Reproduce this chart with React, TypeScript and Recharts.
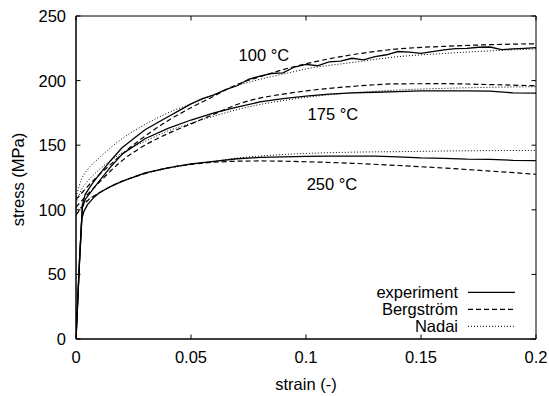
import { LineChart, Line, XAxis, YAxis, ReferenceArea, ReferenceDot } from 'recharts';

const FONT = '"Liberation Sans", Arial, Helvetica, sans-serif';
const FS = 16.5;

// plot frame (used for mirrored inward ticks)
const PLOT_TOP = 16;
const PLOT_RIGHT = 536;

const xTicks = [0, 0.05, 0.1, 0.15, 0.2];
const yTicks = [0, 50, 100, 150, 200, 250];

// model curves share one strain grid
const modelStrain = [0, 0.0025, 0.005, 0.01, 0.015, 0.02, 0.03, 0.04, 0.05, 0.06, 0.07, 0.08, 0.09, 0.1, 0.12, 0.14, 0.16, 0.18, 0.2];

const berg100 = [108, 113, 118, 127, 135, 143, 157, 169, 179, 188, 197, 203, 208.5, 213, 220, 224.5, 226.5, 227.8, 228.5];
const nadai100 = [110, 124, 131, 140, 148, 155, 166, 175, 182, 189, 196, 201, 205, 209, 214, 218.5, 221, 223, 224.5];
const berg175 = [102, 107, 112, 121, 130, 138, 150, 159, 166.5, 174, 181.5, 186.5, 189.5, 192, 195.5, 197.5, 197.6, 196.9, 196];
const nadai175 = [105, 116, 122, 131, 138, 144, 153, 161, 167, 172.5, 177.5, 181.5, 184.5, 187, 190.5, 192.7, 194, 194.8, 195.3];
const berg250 = [96, 102, 107, 113, 118, 122, 128, 132.5, 135.2, 136.8, 137.6, 137.8, 137.6, 137.2, 136, 134.3, 132.3, 130, 127.5];
const nadai250 = [95, 103, 107.5, 113, 118, 122, 128, 132, 135, 137.5, 140, 141.6, 142.8, 143.6, 144.6, 145, 145.5, 145.8, 146];

// experiments
const expStrain100 = [0, 0.0015, 0.0028, 0.004, 0.007, 0.01, 0.015, 0.02, 0.025, 0.03, 0.035, 0.04, 0.045, 0.05, 0.055, 0.06, 0.065, 0.07, 0.075, 0.08, 0.085, 0.09, 0.095, 0.1, 0.105, 0.11, 0.115, 0.12, 0.125, 0.13, 0.135, 0.14, 0.145, 0.15, 0.155, 0.16, 0.165, 0.17, 0.175, 0.18, 0.185, 0.19, 0.195, 0.2];
const exp100 = [0, 60, 104, 112, 120, 127, 138, 148, 155, 162, 167, 172, 177, 182, 186, 189, 193, 196, 201, 203.5, 205.5, 206, 210.5, 212.5, 211.5, 214.5, 215, 217.3, 216, 218.5, 220, 222.5, 222, 221, 222.5, 223.8, 224.8, 225, 225.8, 226, 224, 224.5, 225, 225.5];

const expStrain175 = [0, 0.0015, 0.0028, 0.004, 0.007, 0.01, 0.015, 0.02, 0.03, 0.04, 0.05, 0.06, 0.07, 0.08, 0.09, 0.1, 0.11, 0.12, 0.13, 0.14, 0.15, 0.16, 0.17, 0.18, 0.19, 0.2];
const exp175 = [0, 60, 102, 108, 115, 122, 133, 143, 155, 163, 169.5, 175, 179.5, 183.5, 186, 188, 189.5, 190.5, 191, 191.5, 192, 192, 192, 191.8, 190.5, 190.3];

const expStrain250 = [0, 0.0015, 0.0025, 0.0035, 0.005, 0.008, 0.01, 0.015, 0.02, 0.03, 0.04, 0.05, 0.06, 0.07, 0.08, 0.09, 0.1, 0.11, 0.12, 0.13, 0.14, 0.15, 0.16, 0.17, 0.18, 0.19, 0.2];
const exp250 = [0, 58, 93, 99, 104, 110, 113, 118, 122, 128.5, 132.5, 135.5, 137.5, 139.5, 140.5, 141, 141.3, 141.5, 141.6, 141.5, 141, 140.2, 139.8, 139.2, 139, 138.3, 138];

// temperature annotations (data units)
const labelText = ['100 °C', '175 °C', '250 °C'];
const labelStrain = [0.0817, 0.1117, 0.1113];
const labelStress = [219.8, 174.2, 120];

const legendNames = ['experiment', 'Bergström', 'Nadai'];
const legendDash = [undefined, '5 3', '1 2'];

const zip = (xs: number[], ys: number[]) => xs.map((x, i) => ({ x, y: ys[i] }));

const series = [
  { key: 'e100', data: zip(expStrain100, exp100), dash: undefined, w: 1.3, type: 'linear' },
  { key: 'e175', data: zip(expStrain175, exp175), dash: undefined, w: 1.3, type: 'linear' },
  { key: 'e250', data: zip(expStrain250, exp250), dash: undefined, w: 1.3, type: 'linear' },
  { key: 'b100', data: zip(modelStrain, berg100), dash: '5 3', w: 1.2, type: 'monotone' },
  { key: 'b175', data: zip(modelStrain, berg175), dash: '5 3', w: 1.2, type: 'monotone' },
  { key: 'b250', data: zip(modelStrain, berg250), dash: '5 3', w: 1.2, type: 'monotone' },
  { key: 'n100', data: zip(modelStrain, nadai100), dash: '1 2', w: 1, type: 'monotone' },
  { key: 'n175', data: zip(modelStrain, nadai175), dash: '1 2', w: 1, type: 'monotone' },
  { key: 'n250', data: zip(modelStrain, nadai250), dash: '1 2', w: 1, type: 'monotone' },
];

function XTick({ x, y, payload }: any) {
  return (
    <g>
      <line x1={x} x2={x} y1={y} y2={y - 4.5} stroke="#000" />
      <line x1={x} x2={x} y1={PLOT_TOP} y2={PLOT_TOP + 4.5} stroke="#000" />
      <text x={x} y={y + 24} textAnchor="middle" fontFamily={FONT} fontSize={FS} fill="#000">
        {payload.value}
      </text>
    </g>
  );
}

function YTick({ x, y, payload }: any) {
  return (
    <g>
      <line x1={x} x2={x + 4.5} y1={y} y2={y} stroke="#000" />
      <line x1={PLOT_RIGHT - 4.5} x2={PLOT_RIGHT} y1={y} y2={y} stroke="#000" />
      <text x={x - 10} y={y + 6} textAnchor="end" fontFamily={FONT} fontSize={FS} fill="#000">
        {payload.value}
      </text>
    </g>
  );
}

function XLabel({ viewBox }: any) {
  return (
    <text x={viewBox.x + viewBox.width / 2} y={390} textAnchor="middle" fontFamily={FONT} fontSize={FS} fill="#000">
      strain (-)
    </text>
  );
}

function YLabel({ viewBox }: any) {
  const cx = 24;
  const cy = viewBox.y + viewBox.height / 2 + 2;
  return (
    <text x={cx} y={cy} transform={`rotate(-90 ${cx} ${cy})`} textAnchor="middle" fontFamily={FONT} fontSize={FS} fill="#000">
      stress (MPa)
    </text>
  );
}

function ChartLegend() {
  return (
    <svg width={549} height={396} style={{ position: 'absolute', left: 0, top: 0, pointerEvents: 'none' }}>
      {legendNames.map((name, i) => {
        const cy = 292.3 + i * 17;
        return (
          <g key={name}>
            <text x={458} y={cy + 5.5} textAnchor="end" fontFamily={FONT} fontSize={FS} fill="#000">
              {name}
            </text>
            <line x1={468} x2={515} y1={cy} y2={cy} stroke="#000" strokeWidth={i === 0 ? 1.3 : i === 1 ? 1.2 : 1} strokeDasharray={legendDash[i]} />
          </g>
        );
      })}
    </svg>
  );
}

export default function App() {
  return (
    <div style={{ position: 'absolute', left: 0, top: 0, width: 549, height: 396, background: '#fff' }}>
      <LineChart width={549} height={396} margin={{ top: PLOT_TOP, right: 549 - PLOT_RIGHT, bottom: 0, left: 0 }} style={{ fontFamily: FONT }}>
        <XAxis
          type="number"
          dataKey="x"
          domain={[0, 0.2]}
          ticks={xTicks}
          allowDataOverflow
          height={57}
          tickSize={0}
          tickMargin={0}
          tickLine={false}
          axisLine={{ stroke: '#000' }}
          tick={<XTick />}
          label={{ content: <XLabel /> }}
        />
        <YAxis
          type="number"
          domain={[0, 250]}
          ticks={yTicks}
          allowDataOverflow
          width={76}
          tickSize={0}
          tickMargin={0}
          tickLine={false}
          axisLine={{ stroke: '#000' }}
          tick={<YTick />}
          label={{ content: <YLabel /> }}
        />
        <ReferenceArea x1={0} x2={0.2} y1={0} y2={250} fill="none" stroke="#000" strokeWidth={1} />
        {series.map((s) => (
          <Line
            key={s.key}
            data={s.data}
            dataKey="y"
            type={s.type as any}
            stroke="#000"
            strokeWidth={s.w}
            strokeDasharray={s.dash}
            dot={false}
            activeDot={false}
            isAnimationActive={false}
          />
        ))}
        {labelText.map((t, i) => (
          <ReferenceDot
            key={t}
            x={labelStrain[i]}
            y={labelStress[i]}
            r={0}
            fill="none"
            stroke="none"
            label={{ value: t, position: 'center', fill: '#000', fontSize: FS, fontFamily: FONT }}
          />
        ))}
      </LineChart>
      <ChartLegend />
    </div>
  );
}
